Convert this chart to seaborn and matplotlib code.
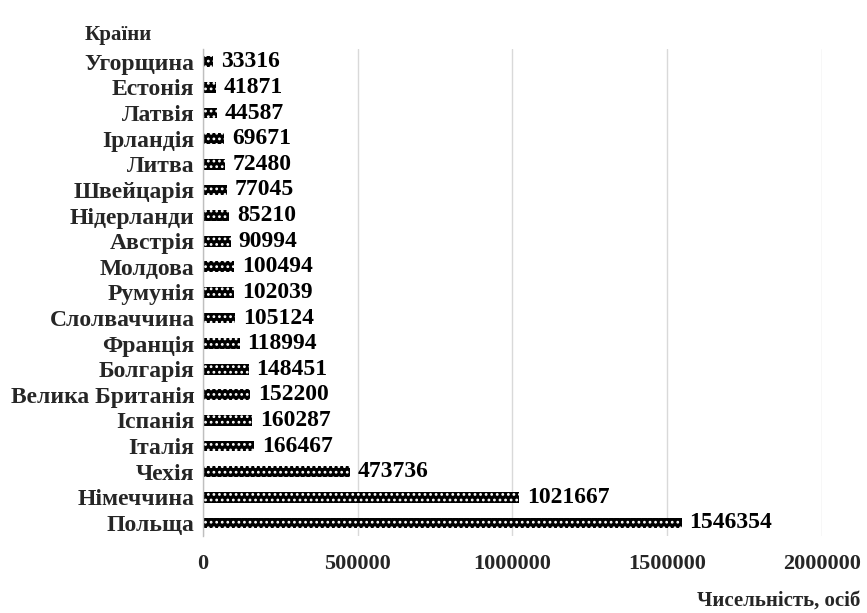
import matplotlib
matplotlib.use("Agg")
import matplotlib.pyplot as plt
import seaborn as sns
import pandas as pd

countries = ["Угорщина", "Естонія", "Латвія", "Ірландія", "Литва", "Швейцарія",
             "Нідерланди", "Австрія", "Молдова", "Румунія", "Слолваччина", "Франція",
             "Болгарія", "Велика Британія", "Іспанія", "Італія", "Чехія",
             "Німеччина", "Польща"]
values = [33316, 41871, 44587, 69671, 72480, 77045, 85210, 90994, 100494, 102039,
          105124, 118994, 148451, 152200, 160287, 166467, 473736, 1021667, 1546354]
x_ticks = [0, 500000, 1000000, 1500000, 2000000]

df = pd.DataFrame({"country": countries, "value": values})

sns.set_theme(style="white")
plt.rcParams["font.family"] = ["Liberation Serif", "DejaVu Serif"]
plt.rcParams["font.weight"] = "bold"
plt.rcParams["hatch.linewidth"] = 1.2

fig = plt.figure(figsize=(8.67, 6.13), dpi=100)
ax = fig.add_axes([0.234, 0.126, 0.714, 0.794])

sns.barplot(data=df, y="country", x="value", orient="h", ax=ax,
            color="black", width=0.42, order=countries)
for p in ax.patches:
    p.set_facecolor("black")
    p.set_edgecolor("white")
    p.set_hatch("...")
    p.set_linewidth(0)

ax.set_xlim(0, 2000000)
ax.set_ylim(len(countries) - 0.5, -0.5)
ax.set_xticks(x_ticks)
ax.set_xticklabels([str(t) for t in x_ticks], fontsize=16, fontweight="bold")
ax.tick_params(axis="y", labelsize=17, length=0, pad=6)
ax.tick_params(axis="x", length=0, pad=13)
for lbl in ax.get_yticklabels():
    lbl.set_fontweight("bold")

ax.xaxis.grid(True, color="#d9d9d9", linewidth=1)
ax.set_axisbelow(True)
for s in ["top", "right", "bottom"]:
    ax.spines[s].set_visible(False)
ax.spines["left"].set_color("#bfbfbf")
ax.spines["left"].set_linewidth(1)

for i, v in enumerate(values):
    ax.text(v + 25000, i, str(v), va="center", ha="left",
            fontsize=17, fontweight="bold", color="black")

ax.set_xlabel("")
ax.set_ylabel("")
fig.text(0.136, 0.943, "Країни", fontsize=15, fontweight="bold", ha="center", va="center")
fig.text(0.992, 0.021, "Чисельність, осіб", fontsize=15, fontweight="bold",
         ha="right", va="center")

fig.savefig("out.png", dpi=100)
